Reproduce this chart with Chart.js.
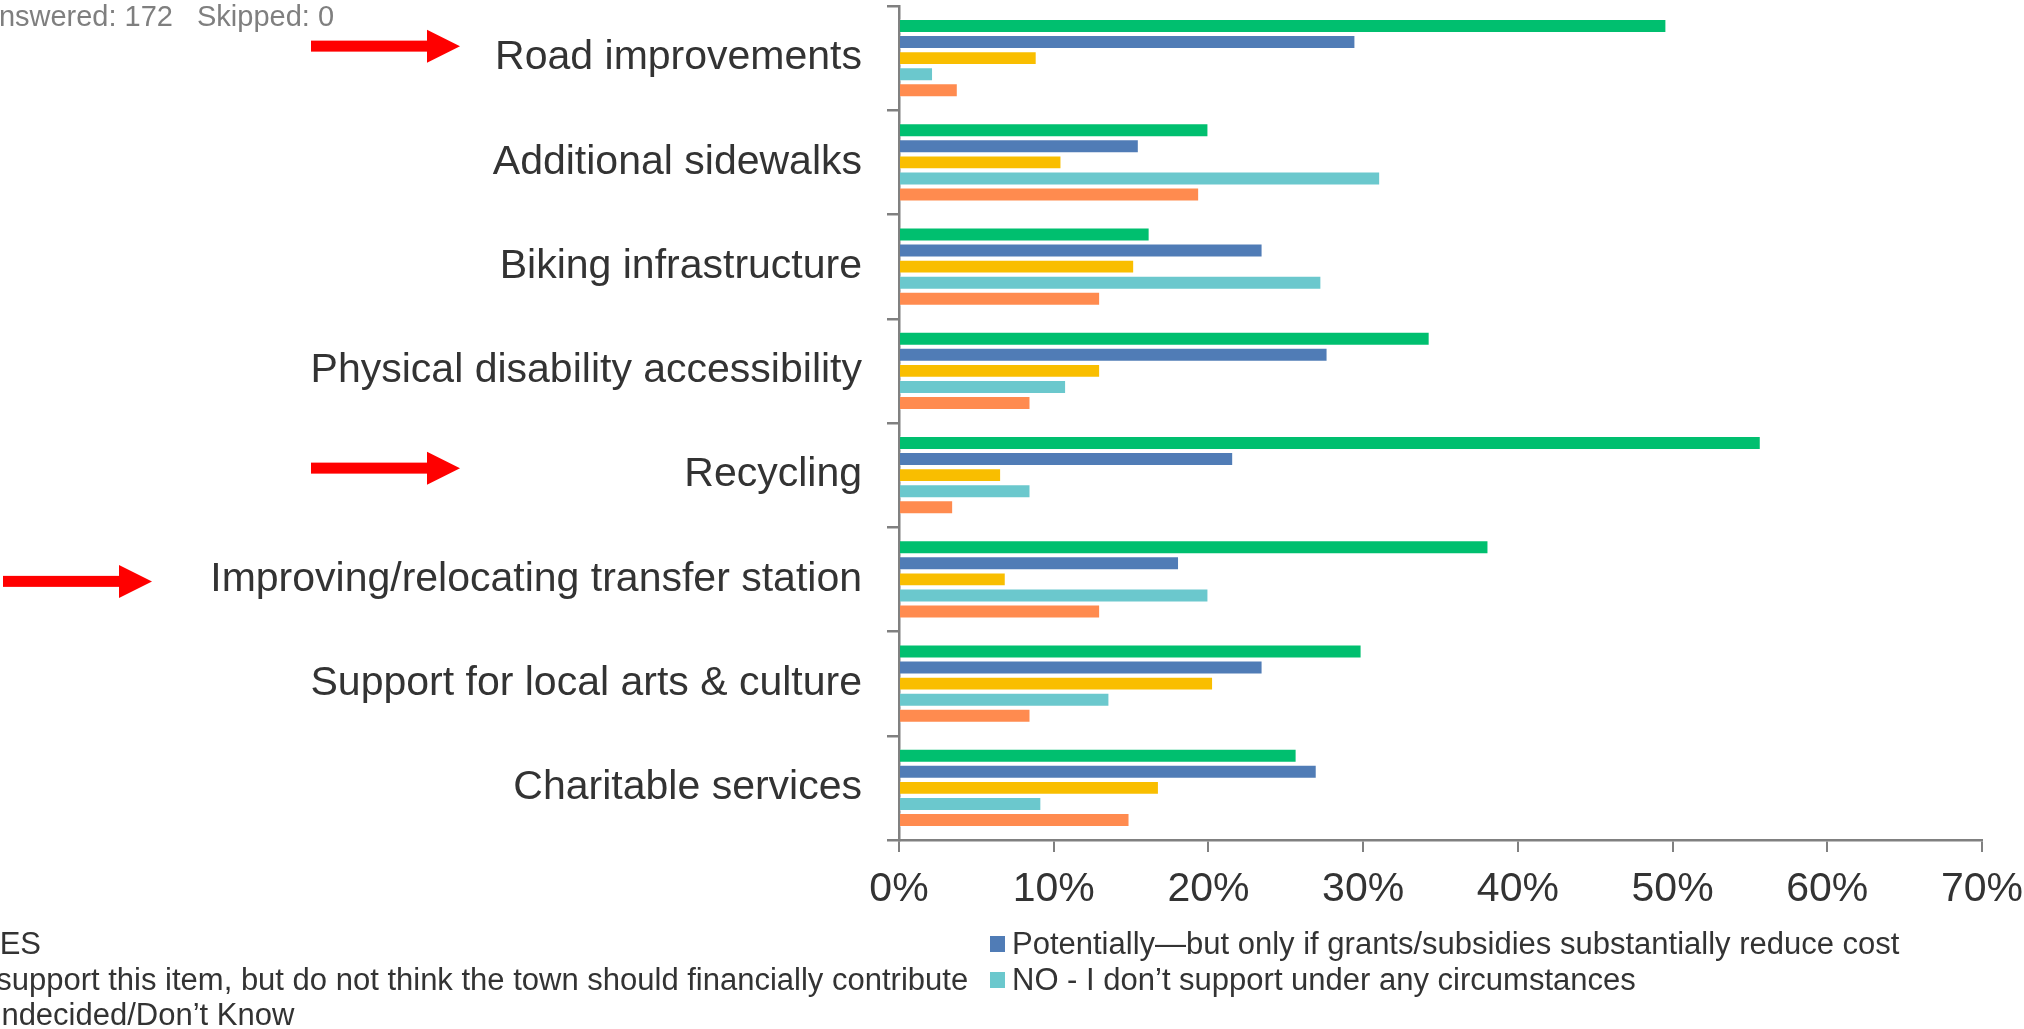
<!DOCTYPE html>
<html>
<head>
<meta charset="utf-8">
<title>Support for town items</title>
<script src="https://cdn.jsdelivr.net/npm/chart.js@4.4.1/dist/chart.umd.min.js"></script>
<style>
  html, body { margin: 0; padding: 0; background: #ffffff; overflow: hidden; }
  #wrap { width: 2024px; height: 1029px; }
</style>
</head>
<body>
<div id="wrap"><canvas id="chart" width="2024" height="1029"></canvas></div>
<script>
// --- data ---
const categories = [
  'Road improvements',
  'Additional sidewalks',
  'Biking infrastructure',
  'Physical disability accessibility',
  'Recycling',
  'Improving/relocating transfer station',
  'Support for local arts & culture',
  'Charitable services'
];
const seriesNames = [
  'YES',
  'Potentially\u2014but only if grants/subsidies substantially reduce cost',
  'I support this item, but do not think the town should financially contribute',
  'NO - I don\u2019t support under any circumstances',
  'Undecided/Don\u2019t Know'
];
const seriesColors = ['#00bf6f', '#507cb6', '#f9be00', '#6bc8cd', '#ff8b4f'];

const yesValues        = [49.6, 20.0, 16.2, 34.3, 55.7, 38.1, 29.9, 25.7];
const potentialValues  = [29.5, 15.5, 23.5, 27.7, 21.6, 18.1, 23.5, 27.0];
const supportNoFunds   = [8.9, 10.5, 15.2, 13.0, 6.6, 6.9, 20.3, 16.8];
const noValues         = [2.2, 31.1, 27.3, 10.8, 8.5, 20.0, 13.6, 9.2];
const undecidedValues  = [3.8, 19.4, 13.0, 8.5, 3.5, 13.0, 8.5, 14.9];

const xTicks = [0, 10, 20, 30, 40, 50, 60, 70];
const answered = 172;
const skipped = 0;

// rows that carry a red arrow in the original slide
const arrowRows = ['Road improvements', 'Recycling', 'Improving/relocating transfer station'];

const FONT = "'Liberation Sans', Arial, sans-serif";
const AXIS_GREY = '#808080';
const TEXT = '#333333';

const allValues = [yesValues, potentialValues, supportNoFunds, noValues, undecidedValues];

// arrows, top note and the two-column legend are drawn by hand
const extrasPlugin = {
  id: 'extras',
  afterDraw(chart) {
    const ctx = chart.ctx;
    const y = chart.scales.y;
    ctx.save();

    // "Answered / Skipped" note (left part is cut off like in the slide)
    ctx.font = '29px ' + FONT;
    ctx.fillStyle = '#7f7f7f';
    ctx.textBaseline = 'middle';
    ctx.textAlign = 'right';
    ctx.fillText('Answered: ' + answered, 173, 18);
    ctx.textAlign = 'left';
    ctx.fillText('Skipped: ' + skipped, 197, 18);

    // red arrows
    const tips = {'Road improvements': [460, -12], 'Recycling': [460, -7], 'Improving/relocating transfer station': [152, 2]};
    ctx.fillStyle = '#ff0000';
    arrowRows.forEach(name => {
      const idx = categories.indexOf(name);
      const [tip, dy] = tips[name];
      const cy = y.getPixelForValue(idx) + dy;
      const tail = tip - 149;
      const neck = tip - 33;
      ctx.fillRect(tail, cy - 5.5, neck - tail, 11);
      ctx.beginPath();
      ctx.moveTo(neck, cy - 16.5);
      ctx.lineTo(tip, cy);
      ctx.lineTo(neck, cy + 16.5);
      ctx.closePath();
      ctx.fill();
    });

    // legend: two columns, left one runs off the page
    ctx.font = '31px ' + FONT;
    ctx.textAlign = 'left';
    const colX = [-21, 1012];
    const rowY = [944, 980, 1015];
    chart.data.datasets.forEach((ds, i) => {
      const tx = colX[i % 2];
      const ty = rowY[Math.floor(i / 2)];
      ctx.fillStyle = ds.backgroundColor;
      ctx.fillRect(tx - 22, ty - 8, 15, 16);
      ctx.fillStyle = TEXT;
      ctx.fillText(ds.label, tx, ty + 1);
    });
    ctx.restore();
  }
};

new Chart(document.getElementById('chart'), {
  type: 'bar',
  data: {
    labels: categories,
    datasets: seriesNames.map((name, i) => ({
      label: name,
      data: allValues[i],
      backgroundColor: seriesColors[i],
      borderColor: 'rgba(255,255,255,0.35)',
      borderWidth: 1,
      categoryPercentage: 0.77,
      barPercentage: 0.87
    }))
  },
  options: {
    indexAxis: 'y',
    responsive: false,
    animation: false,
    devicePixelRatio: 1,
    layout: { padding: { top: 6, left: 0, right: 0, bottom: 0 } },
    plugins: {
      legend: { display: false },
      tooltip: { enabled: false }
    },
    scales: {
      x: {
        min: xTicks[0],
        max: xTicks[xTicks.length - 1],
        afterBuildTicks(scale) {
          scale.ticks = xTicks.map(v => ({ value: v }));
        },
        afterFit(scale) {
          scale.height = 189;
          scale.paddingLeft = 0;
          scale.paddingRight = 42;
        },
        ticks: {
          color: TEXT,
          font: { family: FONT, size: 41 },
          padding: 13,
          callback: v => v + '%'
        },
        grid: {
          drawOnChartArea: false,
          drawTicks: true,
          tickLength: 12,
          color: AXIS_GREY,
          lineWidth: 2
        },
        border: { color: AXIS_GREY, width: 2.5 }
      },
      y: {
        afterFit(scale) {
          scale.width = 899;
          scale.paddingTop = 0;
          scale.paddingBottom = 0;
        },
        ticks: {
          color: TEXT,
          font: { family: FONT, size: 41 },
          padding: 25
        },
        grid: {
          offset: true,
          drawOnChartArea: false,
          drawTicks: true,
          tickLength: 12,
          color: AXIS_GREY,
          lineWidth: 2.5
        },
        border: { color: AXIS_GREY, width: 2.5 }
      }
    }
  },
  plugins: [extrasPlugin]
});
</script>
</body>
</html>
